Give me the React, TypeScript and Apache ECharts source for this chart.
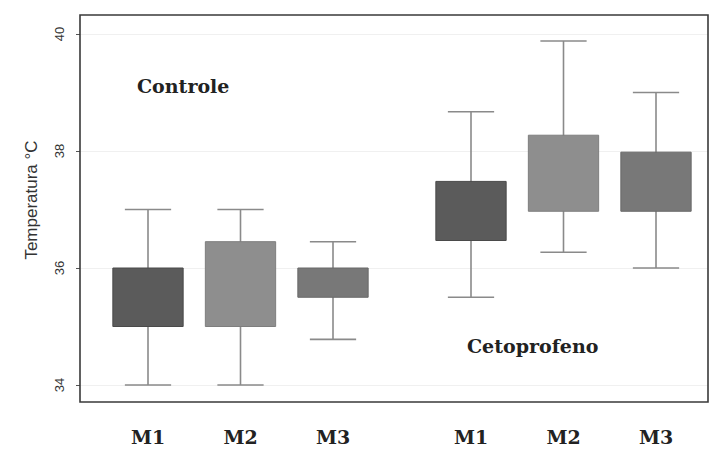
import React, { useEffect, useRef } from "react";
import * as echarts from "echarts";

const groupNames = ["Controle", "Cetoprofeno"];
const categories = ["M1", "M2", "M3"];
const yTicks = [34, 36, 38, 40];
const yTitle = "Temperatura °C";
// [min, q1, q3, max]
const controleValues = [
  [34.0, 35.0, 36.0, 37.0],
  [34.0, 35.0, 36.45, 37.0],
  [34.78, 35.5, 36.0, 36.45],
];
const cetoprofenoValues = [
  [35.5, 36.47, 37.48, 38.67],
  [36.27, 36.97, 38.27, 39.88],
  [36.0, 36.97, 37.98, 39.0],
];
const boxColors = ["#5b5b5b", "#8e8e8e", "#787878"];
const boxBorders = ["#4a4a4a", "#7e7e7e", "#686868"];

const renderBox = (params: any, api: any) => {
  const idx = api.value(0);
  const lo = api.coord([idx, api.value(1)]);
  const q1 = api.coord([idx, api.value(2)]);
  const q3 = api.coord([idx, api.value(3)]);
  const hi = api.coord([idx, api.value(4)]);
  const band = api.size([1, 0])[0];
  const bw = band * 0.76;
  const cw = band * 0.5;
  const x = lo[0];
  const wStyle = { stroke: "#8a8a8a", lineWidth: 1.6 };
  const i = params.dataIndex;
  return {
    type: "group",
    children: [
      { type: "line", shape: { x1: x, y1: hi[1], x2: x, y2: lo[1] }, style: wStyle },
      { type: "line", shape: { x1: x - cw / 2, y1: hi[1], x2: x + cw / 2, y2: hi[1] }, style: wStyle },
      { type: "line", shape: { x1: x - cw / 2, y1: lo[1], x2: x + cw / 2, y2: lo[1] }, style: wStyle },
      {
        type: "rect",
        shape: { x: x - bw / 2, y: q3[1], width: bw, height: q1[1] - q3[1] },
        style: { fill: boxColors[i], stroke: boxBorders[i], lineWidth: 1 },
      },
    ],
  };
};

export default function App() {
  const ref = useRef<HTMLDivElement>(null);
  useEffect(() => {
    if (!ref.current) return;
    const chart = echarts.init(ref.current, undefined, { renderer: "svg" });
    const yAxisBase = {
      type: "value",
      min: yTicks[0],
      max: yTicks[yTicks.length - 1],
      interval: yTicks[1] - yTicks[0],
    };
    const xAxisBase = {
      type: "category",
      data: categories,
      axisLine: { show: false },
      axisTick: { show: false },
      axisLabel: {
        margin: 42,
        fontFamily: "DejaVu Serif",
        fontWeight: "bold",
        fontSize: 19,
        color: "#222",
      },
    };
    chart.setOption({
      animation: false,
      backgroundColor: "#ffffff",
      grid: [
        { left: 101.75, top: 34, width: 277.5, height: 351 },
        { left: 424.75, top: 34, width: 277.5, height: 351 },
        { left: 80, top: 34, width: 628, height: 351 },
      ],
      xAxis: [
        { ...xAxisBase, gridIndex: 0 },
        { ...xAxisBase, gridIndex: 1 },
        { type: "value", gridIndex: 2, show: false },
      ],
      yAxis: [
        {
          ...yAxisBase,
          gridIndex: 0,
          offset: 21.75,
          splitLine: { show: false },
          axisLine: { show: false },
          axisTick: { show: true, length: 4, lineStyle: { color: "#555" } },
          axisLabel: {
            rotate: 90,
            margin: 14,
            fontFamily: "Liberation Sans",
            fontSize: 13,
            color: "#333",
          },
        },
        {
          ...yAxisBase,
          gridIndex: 1,
          splitLine: { show: false },
          axisLine: { show: false },
          axisTick: { show: false },
          axisLabel: { show: false },
        },
        {
          ...yAxisBase,
          gridIndex: 2,
          splitLine: { show: true, lineStyle: { color: "#f0f0f0", width: 1 } },
          axisLine: { show: false },
          axisTick: { show: false },
          axisLabel: { show: false },
        },
      ],
      graphic: [
        {
          type: "rect",
          shape: { x: 80, y: 15, width: 628, height: 387 },
          style: { fill: "none", stroke: "#3a3a3a", lineWidth: 1.6 },
          z: 10,
        },
        {
          type: "text",
          x: 31,
          y: 200,
          rotation: Math.PI / 2,
          style: {
            text: yTitle,
            fontFamily: "Liberation Sans",
            fontSize: 17,
            fill: "#333",
            textAlign: "center",
            textVerticalAlign: "middle",
          },
        },
        {
          type: "text",
          x: 137,
          y: 86,
          style: {
            text: groupNames[0],
            fontFamily: "DejaVu Serif",
            fontWeight: "bold",
            fontSize: 19,
            fill: "#222",
            textAlign: "left",
            textVerticalAlign: "middle",
          },
        },
        {
          type: "text",
          x: 467,
          y: 346,
          style: {
            text: groupNames[1],
            fontFamily: "DejaVu Serif",
            fontWeight: "bold",
            fontSize: 19,
            fill: "#222",
            textAlign: "left",
            textVerticalAlign: "middle",
          },
        },
      ],
      series: [
        {
          type: "custom",
          name: groupNames[0],
          xAxisIndex: 0,
          yAxisIndex: 0,
          renderItem: renderBox,
          data: controleValues.map((v, i) => [i, ...v]),
        },
        {
          type: "custom",
          name: groupNames[1],
          xAxisIndex: 1,
          yAxisIndex: 1,
          renderItem: renderBox,
          data: cetoprofenoValues.map((v, i) => [i, ...v]),
        },
      ],
    });
    return () => chart.dispose();
  }, []);
  return (
    <div
      ref={ref}
      style={{ position: "fixed", left: 0, top: 0, width: 712, height: 461 }}
    />
  );
}
